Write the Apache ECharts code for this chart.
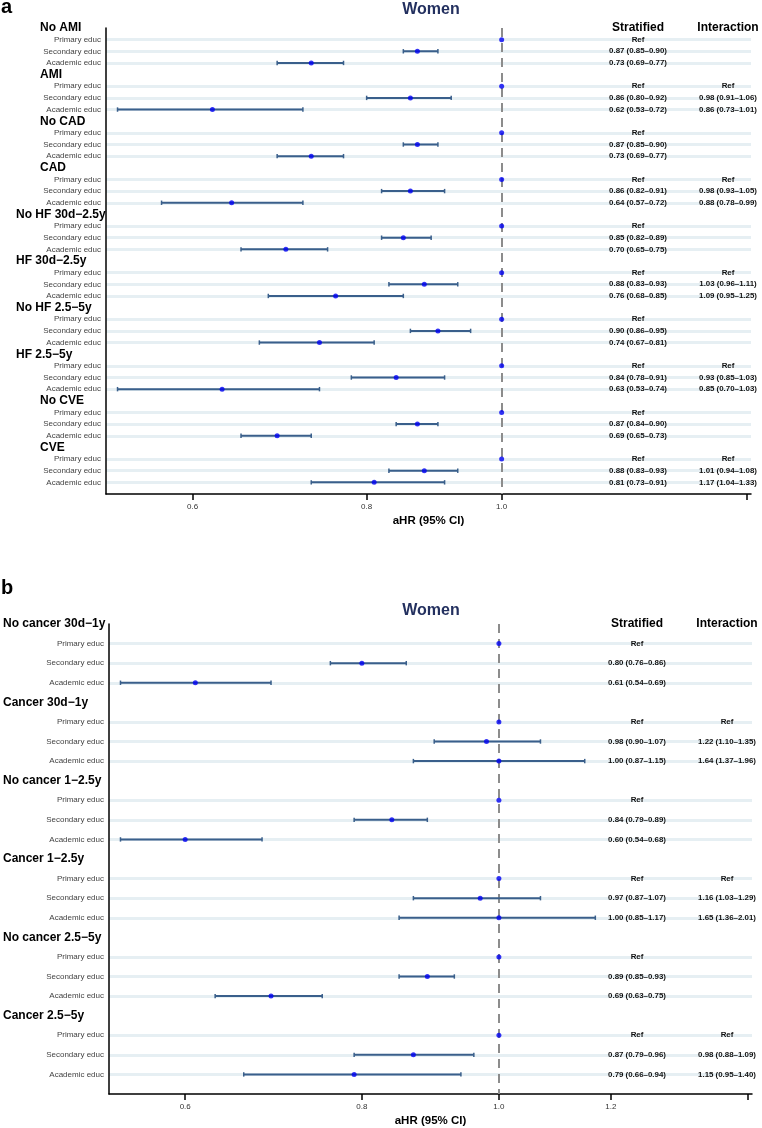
<!DOCTYPE html>
<html>
<head>
<meta charset="utf-8">
<script src="https://cdn.jsdelivr.net/npm/echarts@6.0.0/dist/echarts.min.js"></script>
<style>
  html, body { margin: 0; background: #fff; }
  #chart { width: 762px; height: 1128px; }
</style>
</head>
<body>
<div id="chart"></div>
<script>
const levels = ['Primary educ', 'Secondary educ', 'Academic educ'];
const refHR = 1;

// panel a: [HR, lower, upper]
const groupsA = ['No AMI', 'AMI', 'No CAD', 'CAD', 'No HF 30d−2.5y', 'HF 30d−2.5y', 'No HF 2.5−5y', 'HF 2.5−5y', 'No CVE', 'CVE'];
const secondaryA = [[0.87, 0.85, 0.90], [0.86, 0.80, 0.92], [0.87, 0.85, 0.90], [0.86, 0.82, 0.91], [0.85, 0.82, 0.89],
                    [0.88, 0.83, 0.93], [0.90, 0.86, 0.95], [0.84, 0.78, 0.91], [0.87, 0.84, 0.90], [0.88, 0.83, 0.93]];
const academicA = [[0.73, 0.69, 0.77], [0.62, 0.53, 0.72], [0.73, 0.69, 0.77], [0.64, 0.57, 0.72], [0.70, 0.65, 0.75],
                   [0.76, 0.68, 0.85], [0.74, 0.67, 0.81], [0.63, 0.53, 0.74], [0.69, 0.65, 0.73], [0.81, 0.73, 0.91]];
const interSecondaryA = [null, [0.98, 0.91, 1.06], null, [0.98, 0.93, 1.05], null, [1.03, 0.96, 1.11], null, [0.93, 0.85, 1.03], null, [1.01, 0.94, 1.08]];
const interAcademicA = [null, [0.86, 0.73, 1.01], null, [0.88, 0.78, 0.99], null, [1.09, 0.95, 1.25], null, [0.85, 0.70, 1.03], null, [1.17, 1.04, 1.33]];
const rangeA = [0.52, 1.51];
const ticksA = [0.6, 0.8, 1.0, 1.5];
const tickLabelsA = [0.6, 0.8, 1.0];

// panel b
const groupsB = ['No cancer 30d−1y', 'Cancer 30d−1y', 'No cancer 1−2.5y', 'Cancer 1−2.5y', 'No cancer 2.5−5y', 'Cancer 2.5−5y'];
const secondaryB = [[0.80, 0.76, 0.86], [0.98, 0.90, 1.07], [0.84, 0.79, 0.89], [0.97, 0.87, 1.07], [0.89, 0.85, 0.93], [0.87, 0.79, 0.96]];
const academicB = [[0.61, 0.54, 0.69], [1.00, 0.87, 1.15], [0.60, 0.54, 0.68], [1.00, 0.85, 1.17], [0.69, 0.63, 0.75], [0.79, 0.66, 0.94]];
const interSecondaryB = [null, [1.22, 1.10, 1.35], null, [1.16, 1.03, 1.29], null, [0.98, 0.88, 1.09]];
const interAcademicB = [null, [1.64, 1.37, 1.96], null, [1.65, 1.36, 2.01], null, [1.15, 0.95, 1.40]];
const rangeB = [0.53, 1.51];
const ticksB = [0.6, 0.8, 1.0, 1.2, 1.5];
const tickLabelsB = [0.6, 0.8, 1.0, 1.2];

const font = "'Liberation Sans', Arial, Helvetica, sans-serif";
const ciColor = '#3a5f8b';
const dotColor = '#0000f2';

const fmt = e => `${e[0].toFixed(2)} (${e[1].toFixed(2)}–${e[2].toFixed(2)})`;

function buildRows(groups, sec, aca, iSec, iAca) {
  const rows = [];
  groups.forEach((g, gi) => {
    const hasInt = iSec[gi] !== null;
    const first = rows.length === 0;
    rows.push({ label: g, head: true, strat: first ? 'Stratified' : '', inter: first ? 'Interaction' : '' });
    rows.push({ label: levels[0], est: [refHR, refHR, refHR], ref: true, strat: 'Ref', inter: hasInt ? 'Ref' : '' });
    rows.push({ label: levels[1], est: sec[gi], strat: fmt(sec[gi]), inter: hasInt ? fmt(iSec[gi]) : '' });
    rows.push({ label: levels[2], est: aca[gi], strat: fmt(aca[gi]), inter: hasInt ? fmt(iAca[gi]) : '' });
  });
  return rows;
}

const panels = [
  {
    rows: buildRows(groupsA, secondaryA, academicA, interSecondaryA, interAcademicA),
    range: rangeA, ticks: ticksA, tickLabels: tickLabelsA,
    left: 106, right: 751, top: 28, bottom: 494, stratX: 638, interX: 728,
    headStart: t => (t.length > 6 ? 16 : 40), starts: [16, 40],
    letter: 'a', letterY: 7, titleY: 9.4
  },
  {
    rows: buildRows(groupsB, secondaryB, academicB, interSecondaryB, interAcademicB),
    range: rangeB, ticks: ticksB, tickLabels: tickLabelsB,
    left: 106, right: 752, top: 624, bottom: 1096, stratX: 637, interX: 727,
    headStart: () => 0, starts: [0],
    letter: 'b', letterY: 588, titleY: 611
  }
];

const grid = [], xAxis = [], yAxis = [], series = [], graphic = [];

panels.forEach((P, k) => {
  const rows = P.rows;
  const ids = rows.map((r, i) => 'r' + i).concat(['end']);
  const anchor = P.left - 5;

  grid.push({ left: P.left, top: P.top, width: P.right - P.left, height: P.bottom - P.top, containLabel: false });

  xAxis.push({
    type: 'value', gridIndex: k,
    min: Math.log(P.range[0]), max: Math.log(P.range[1]),
    axisLine: { show: true, onZero: false, lineStyle: { color: '#000', width: 1.5 } },
    axisTick: { show: true, customValues: P.ticks.map(v => Math.log(v)), length: 6, lineStyle: { color: '#000', width: 1.5 } },
    axisLabel: {
      customValues: P.tickLabels.map(v => Math.log(v)),
      formatter: v => Math.exp(v).toFixed(1),
      fontSize: 8, color: '#333', margin: 9, fontFamily: font
    },
    splitLine: { show: false },
    name: 'aHR (95% CI)', nameLocation: 'middle', nameGap: 21,
    nameTextStyle: { fontSize: 11.5, fontWeight: 'bold', color: '#000', fontFamily: font }
  });

  const headRich = {};
  P.starts.forEach(s => {
    headRich['h' + s] = { width: anchor - s, align: 'left', fontSize: 12, fontWeight: 'bold', color: '#000', fontFamily: font };
  });
  headRich.e = { fontSize: 8, color: '#444', fontFamily: font };

  const mainY = yAxis.length;
  yAxis.push({
    type: 'category', gridIndex: k, inverse: true, boundaryGap: false, data: ids,
    axisLine: { show: true, onZero: false, lineStyle: { color: '#000', width: 1.5 } },
    axisTick: { show: false },
    axisLabel: {
      interval: 0, margin: 5,
      formatter: (v, i) => {
        const r = rows[i];
        if (!r) return '';
        return r.head ? `{h${P.headStart(r.label)}|${r.label}}` : `{e|${r.label}}`;
      },
      rich: headRich
    },
    splitLine: {
      show: true,
      interval: i => !!rows[i] && !rows[i].head,
      lineStyle: { color: '#e6eff3', width: 3 }
    }
  });

  [['strat', P.stratX], ['inter', P.interX]].forEach(([key, cx]) => {
    yAxis.push({
      type: 'category', gridIndex: k, inverse: true, boundaryGap: false, data: ids,
      position: 'right', offset: cx - P.right,
      axisLine: { show: false, onZero: false }, axisTick: { show: false }, splitLine: { show: false },
      axisLabel: {
        interval: 0, margin: 0, align: 'center',
        formatter: (v, i) => {
          const r = rows[i];
          if (!r || !r[key]) return '';
          return i === 0 ? `{hd|${r[key]}}` : `{s|${r[key]}}`;
        },
        rich: {
          hd: { fontSize: 12, fontWeight: 'bold', color: '#000', fontFamily: font },
          s: { fontSize: 7.9, fontWeight: 'bold', color: '#111', fontFamily: font }
        }
      }
    });
  });

  // reference line at HR = 1
  series.push({
    type: 'line', xAxisIndex: k, yAxisIndex: mainY, z: 1, silent: true,
    data: [],
    markLine: {
      silent: true, symbol: 'none', animation: false, z: 1,
      label: { show: false },
      lineStyle: { color: '#8c8c8c', width: 2, type: [9, 6] },
      data: [{ xAxis: Math.log(refHR) }]
    }
  });

  // confidence intervals
  const ciData = [];
  rows.forEach((r, i) => {
    if (r.est && !r.ref) ciData.push([Math.log(r.est[1]), Math.log(r.est[2]), i]);
  });
  series.push({
    type: 'custom', xAxisIndex: k, yAxisIndex: mainY, z: 3, silent: true,
    data: ciData,
    encode: { x: [0, 1], y: 2 },
    renderItem: (params, api) => {
      const y = api.value(2);
      const p1 = api.coord([api.value(0), y]);
      const p2 = api.coord([api.value(1), y]);
      const h = 2.2;
      return {
        type: 'group',
        children: [
          { type: 'line', shape: { x1: p1[0], y1: p1[1], x2: p2[0], y2: p2[1] }, style: { stroke: ciColor, lineWidth: 2 } },
          { type: 'line', shape: { x1: p1[0], y1: p1[1] - h, x2: p1[0], y2: p1[1] + h }, style: { stroke: ciColor, lineWidth: 1.5 } },
          { type: 'line', shape: { x1: p2[0], y1: p2[1] - h, x2: p2[0], y2: p2[1] + h }, style: { stroke: ciColor, lineWidth: 1.5 } }
        ]
      };
    }
  });

  // point estimates
  const ptData = [];
  rows.forEach((r, i) => {
    if (r.est) ptData.push([Math.log(r.est[0]), i]);
  });
  series.push({
    type: 'scatter', xAxisIndex: k, yAxisIndex: mainY, z: 6, silent: true,
    symbol: 'circle', symbolSize: 5,
    itemStyle: { color: dotColor },
    data: ptData
  });

  graphic.push({
    type: 'text', x: 431, y: P.titleY,
    style: { text: 'Women', align: 'center', verticalAlign: 'middle', fontSize: 16, fontWeight: 'bold', fontFamily: font, fill: '#23305f' }
  });
  graphic.push({
    type: 'text', x: 1, y: P.letterY,
    style: { text: P.letter, align: 'left', verticalAlign: 'middle', fontSize: 20, fontWeight: 'bold', fontFamily: font, fill: '#000' }
  });
});

const chart = echarts.init(document.getElementById('chart'));
chart.setOption({
  animation: false,
  backgroundColor: '#fff',
  textStyle: { fontFamily: font },
  grid, xAxis, yAxis, series, graphic
});
</script>
</body>
</html>
